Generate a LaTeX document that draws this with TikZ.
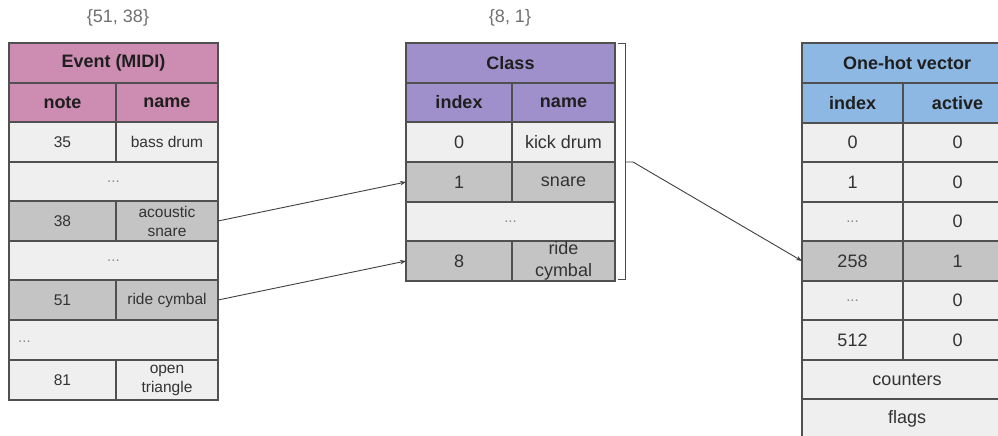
\documentclass[tikz,border=0pt]{standalone}
\usepackage{fontspec}
\setmainfont{Liberation Sans}
\usetikzlibrary{arrows.meta}
\definecolor{pinkc}{HTML}{CD8DB2}
\definecolor{purplec}{HTML}{9F90CC}
\definecolor{bluec}{HTML}{8DB8E3}
\definecolor{lightc}{HTML}{EFEFEF}
\definecolor{darkc}{HTML}{C4C4C4}
\definecolor{linec}{HTML}{505050}
\definecolor{textc}{HTML}{333333}
\definecolor{dotc}{HTML}{8A8A8A}
\definecolor{labc}{HTML}{707070}
\newcommand\mycell[7][]{%
  \pgfmathsetmacro\mcx{(#3+#5)/2}%
  \pgfmathsetmacro\mcy{(#4+#6)/2}%
  \pgfmathsetmacro\mcw{#5-#3}%
  \pgfmathsetmacro\mch{#6-#4}%
  \node[cellbox,minimum width=\mcw pt,minimum height=\mch pt,#1] (#2) at (\mcx pt,-\mcy pt) {#7};}
\tikzset{
  cellbox/.style={draw=linec,line width=1.2pt,rectangle,inner sep=0pt,outer sep=0pt,
    align=center,text=textc},
  hdr/.style={font=\bfseries\fontsize{18}{20}\selectfont,text=black!88},
  sm/.style={font=\fontsize{15.5}{19}\selectfont},
  md/.style={font=\fontsize{18}{21.5}\selectfont},
  dts/.style={font=\fontsize{15}{18}\selectfont,text=dotc},
  lt/.style={fill=lightc},
  dk/.style={fill=darkc},
  conn/.style={draw=black!75,line width=0.9pt,-{Stealth[length=6pt,width=4.5pt]}},
  toplab/.style={font=\fontsize{18}{20}\selectfont,text=labc}
}
\begin{document}
\begin{tikzpicture}
\clip (0,0) rectangle (998pt,-436pt);
\fill[white] (0,0) rectangle (998pt,-436pt);
% labels
\node[toplab] (lab1) at (118pt,-18pt) {\{51, 38\}};
\node[toplab] (lab2) at (510pt,-18pt) {\{8, 1\}};
% left table
\mycell[hdr,fill=pinkc]{Lt}{9}{43}{218}{83}{Event (MIDI)}
\mycell[hdr,fill=pinkc]{Lh1}{9}{83}{116}{122}{note}
\mycell[hdr,fill=pinkc]{Lh2}{116}{83}{218}{122}{name}
\mycell[sm,lt]{La1}{9}{122}{116}{162}{35}
\mycell[sm,lt]{Lb1}{116}{122}{218}{162}{bass drum}
\mycell[dts,lt]{L2}{9}{162}{218}{201}{...}
\mycell[sm,dk]{La3}{9}{201}{116}{241}{38}
\mycell[sm,dk]{Lb3}{116}{201}{218}{241}{acoustic\\snare}
\mycell[dts,lt]{L4}{9}{241}{218}{280}{...}
\mycell[sm,dk]{La5}{9}{280}{116}{320}{51}
\mycell[sm,dk]{Lb5}{116}{280}{218}{320}{ride cymbal}
\mycell[lt]{L6}{9}{320}{218}{360}{}
\node[dts,anchor=west,inner sep=0pt] (L6d) at ([xshift=9pt,yshift=-2pt]L6.west) {...};
\mycell[sm,lt]{La7}{9}{360}{116}{400}{81}
\mycell[sm,lt]{Lb7}{116}{360}{218}{400}{open\\triangle}
% middle table
\mycell[hdr,fill=purplec]{Ct}{406}{43}{615}{83}{Class}
\mycell[hdr,fill=purplec]{Ch1}{406}{83}{512}{122}{index}
\mycell[hdr,fill=purplec]{Ch2}{512}{83}{615}{122}{name}
\mycell[md,lt]{Ca1}{406}{122}{512}{162}{0}
\mycell[md,lt]{Cb1}{512}{122}{615}{162}{kick drum}
\mycell[md,dk]{Ca2}{406}{162}{512}{202}{1}
\mycell[md,dk]{Cb2}{512}{162}{615}{202}{snare}
\mycell[dts,lt]{C3}{406}{202}{615}{241}{...}
\mycell[md,dk]{Ca4}{406}{241}{512}{281}{8}
\mycell[md,dk]{Cb4}{512}{241}{615}{281}{ride\\cymbal}
% right table
\mycell[hdr,fill=bluec]{Rt}{802}{43}{1012}{83}{One-hot vector}
\mycell[hdr,fill=bluec]{Rh1}{802}{83}{903}{123}{index}
\mycell[hdr,fill=bluec]{Rh2}{903}{83}{1012}{123}{active}
\mycell[md,lt]{Ra1}{802}{123}{903}{162}{0}
\mycell[md,lt]{Rb1}{903}{123}{1012}{162}{0}
\mycell[md,lt]{Ra2}{802}{162}{903}{202}{1}
\mycell[md,lt]{Rb2}{903}{162}{1012}{202}{0}
\mycell[dts,lt]{Ra3}{802}{202}{903}{241}{...}
\mycell[md,lt]{Rb3}{903}{202}{1012}{241}{0}
\mycell[md,dk]{Ra4}{802}{241}{903}{281}{258}
\mycell[md,dk]{Rb4}{903}{241}{1012}{281}{1}
\mycell[dts,lt]{Ra5}{802}{281}{903}{320}{...}
\mycell[md,lt]{Rb5}{903}{281}{1012}{320}{0}
\mycell[md,lt]{Ra6}{802}{320}{903}{360}{512}
\mycell[md,lt]{Rb6}{903}{320}{1012}{360}{0}
\mycell[md,lt]{R7}{802}{360}{1012}{399}{counters}
\mycell[md,lt]{R8}{802}{399}{1012}{438}{flags}
% bracket
\coordinate (bT) at (618pt,-43pt);
\coordinate (bB) at (618pt,-279pt);
\coordinate (bTip) at (626pt,-162pt);
\draw[draw=black!70,line width=0.9pt] (bT) -- ++(7pt,0) -- ++(0,-236pt) -- (bB);
% connectors
\draw[conn] (Lb3.east) -- (Ca2.west);
\draw[conn] (Lb5.east) -- (Ca4.west);
\draw[conn] (bTip) -- ++(7pt,0) -- (Ra4.west);
\end{tikzpicture}
\end{document}
